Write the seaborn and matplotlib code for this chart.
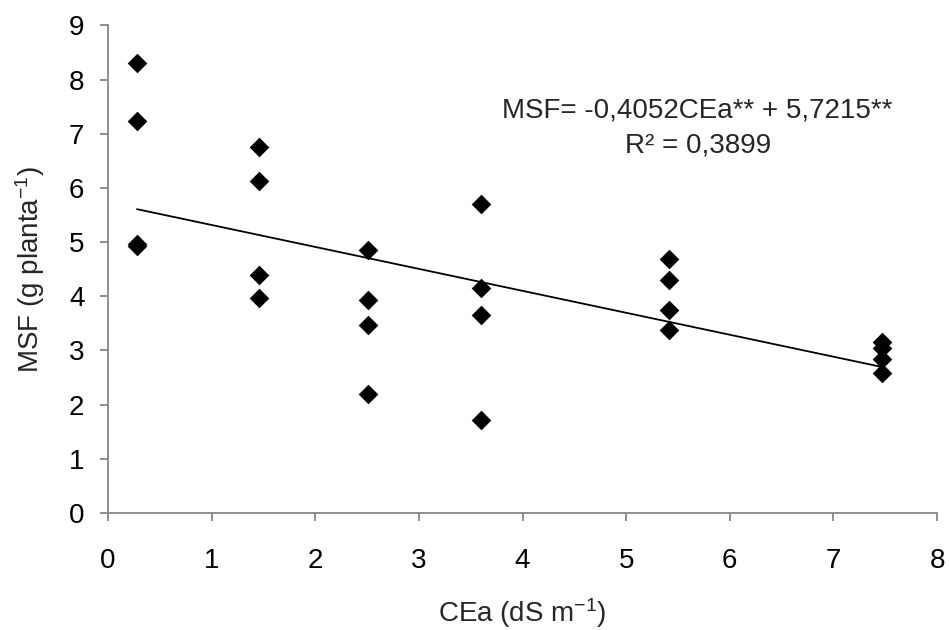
import numpy as np
import pandas as pd
import seaborn as sns
import matplotlib.pyplot as plt

# CEa levels (dS m-1) and MSF values (g planta-1), 4 reps each
cea_levels = [0.28, 1.46, 2.51, 3.60, 5.41, 7.47]
msf_rep1 = [8.30, 6.76, 4.86, 5.70, 4.69, 3.15]
msf_rep2 = [7.24, 6.13, 3.93, 4.16, 4.30, 3.05]
msf_rep3 = [4.97, 4.40, 3.47, 3.66, 3.75, 2.84]
msf_rep4 = [4.92, 3.96, 2.19, 1.71, 3.38, 2.58]

# trend line coefficients (from the equation on the chart)
slope = -0.4052
intercept = 5.7215
r2 = 0.3899

x_ticks = [0, 1, 2, 3, 4, 5, 6, 7, 8]
y_ticks = [0, 1, 2, 3, 4, 5, 6, 7, 8, 9]

df = pd.DataFrame({
    "CEa": cea_levels * 4,
    "MSF": msf_rep1 + msf_rep2 + msf_rep3 + msf_rep4,
})
trend = pd.DataFrame({"CEa": [min(cea_levels), max(cea_levels)]})
trend["MSF"] = intercept + slope * trend["CEa"]

sns.set_style("ticks")
plt.rcParams["font.family"] = ["Liberation Sans", "DejaVu Sans"]
plt.rcParams["mathtext.fontset"] = "custom"
plt.rcParams["mathtext.rm"] = "Liberation Sans"
plt.rcParams["mathtext.it"] = "Liberation Sans"

fs = 20
fig = plt.figure(figsize=(9.49, 6.30), dpi=100)
ax = fig.add_axes([0.1138, 0.1857, 0.8736, 0.774])

sns.lineplot(data=trend, x="CEa", y="MSF", color="black", linewidth=1.3, ax=ax)
sns.scatterplot(data=df, x="CEa", y="MSF", marker="D", s=100, color="black",
                linewidth=0, ax=ax, zorder=3)

ax.set_xlim(0, 8)
ax.set_ylim(0, 9)
ax.set_xticks(x_ticks)
ax.set_yticks(y_ticks)

gray = "#868686"
for side in ["top", "right"]:
    ax.spines[side].set_visible(False)
for side in ["left", "bottom"]:
    ax.spines[side].set_color(gray)
    ax.spines[side].set_linewidth(1.3)
ax.tick_params(axis="both", colors=gray, labelcolor="black", labelsize=fs,
               length=6, width=1.3, direction="out")
ax.tick_params(axis="x", pad=19)
ax.tick_params(axis="y", pad=11)

ax.set_xlabel("CEa (dS m$^{-1}$)", fontsize=fs, labelpad=16)
ax.set_ylabel("MSF (g planta$^{-1}$)", fontsize=fs, labelpad=16)

ax.text(5.69, 7.42, "MSF= -0,4052CEa** + 5,7215**", fontsize=fs,
        ha="center", va="center")
ax.text(5.69, 6.79, f"R² = {r2}".replace(".", ","), fontsize=fs,
        ha="center", va="center")

fig.savefig("out.png", dpi=100)
